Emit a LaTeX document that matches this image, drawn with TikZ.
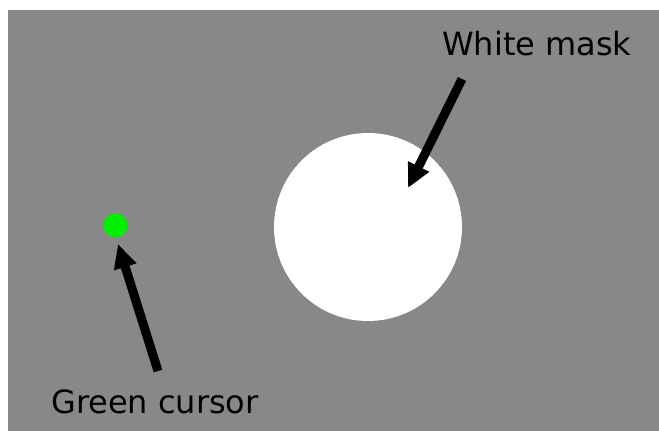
\documentclass[tikz,border=0pt]{standalone}
\usepackage{fontspec}
\setmainfont{DejaVu Sans}
\usetikzlibrary{arrows.meta}
\definecolor{bg}{RGB}{136,136,136}
\definecolor{cursorgreen}{RGB}{0,240,0}
\begin{document}
\begin{tikzpicture}[x=1pt,y=-1pt,
  lbl/.style={font=\fontsize{32}{36}\selectfont, inner sep=0pt, anchor=base west, text=black},
  pointer/.style={line width=9pt, draw=black, -{Triangle[length=24pt,width=22pt]}, shorten >=0pt}]
\useasboundingbox (0,0) rectangle (659,431);
\fill[white] (0,0) rectangle (659,431);
\fill[bg] (8,10) rectangle (659,431);
\node[circle, fill=white, minimum size=188pt, inner sep=0pt] (mask) at (368,227) {};
\node[circle, fill=cursorgreen, minimum size=24pt, inner sep=0pt] (cursor) at (115.5,225.5) {};
\node[lbl] (masklbl) at (442,55) {White mask};
\node[lbl] (cursorlbl) at (51,413) {Green cursor};
\coordinate (t1) at (462,79);
\coordinate (h1) at (408,188);
\coordinate (t2) at (158,371);
\coordinate (h2) at (118,244);
\draw[pointer] (t1) -- (h1);
\draw[pointer] (t2) -- (h2);
\end{tikzpicture}
\end{document}
